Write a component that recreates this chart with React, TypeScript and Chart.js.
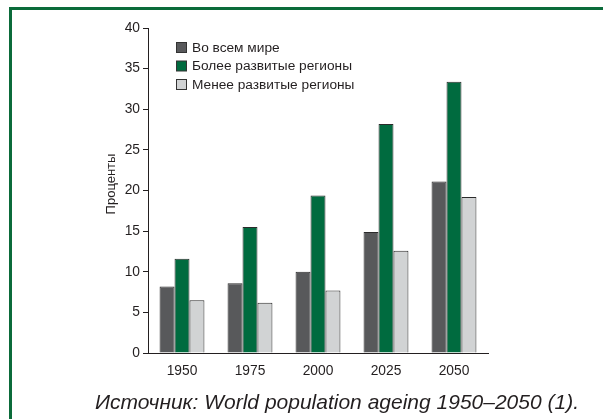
import React, { useEffect, useRef } from "react";
import { Chart, registerables } from "chart.js";

Chart.register(...registerables);

const categories = ["1950", "1975", "2000", "2025", "2050"];
const seriesNames = ["Во всем мире", "Более развитые регионы", "Менее развитые регионы"];
const worldValues = [8.2, 8.6, 10.0, 14.9, 21.1];
const moreDevValues = [11.6, 15.5, 19.4, 28.2, 33.4];
const lessDevValues = [6.5, 6.2, 7.7, 12.6, 19.2];
const yTicks = [0, 5, 10, 15, 20, 25, 30, 35, 40];
const yTitle = "Проценты";
const caption = "Источник: World population ageing 1950–2050 (1).";

const COLORS = ["#58595b", "#006b3f", "#d1d3d4"];
const INK = "#231f20";
const FONT = "'Liberation Sans', Arial, Helvetica, sans-serif";

const legendPlugin = {
  id: "insideLegend",
  afterDraw(chart: any) {
    const ctx = chart.ctx;
    ctx.save();
    const x0 = 176.5;
    const ys = [47.5, 66, 84.5];
    chart.data.datasets.forEach((ds: any, i: number) => {
      const y = ys[i];
      ctx.fillStyle = ds.backgroundColor;
      ctx.fillRect(x0, y - 5, 10, 10);
      ctx.strokeStyle = "#333";
      ctx.lineWidth = 1;
      ctx.strokeRect(x0, y - 5, 10, 10);
      ctx.fillStyle = INK;
      ctx.font = "13.7px " + FONT;
      ctx.textBaseline = "middle";
      ctx.textAlign = "left";
      ctx.fillText(ds.label, x0 + 15.5, y + 0.5);
    });
    // rotated y-axis title
    ctx.translate(111, 184);
    ctx.rotate(-Math.PI / 2);
    ctx.font = "13px " + FONT;
    ctx.fillStyle = INK;
    ctx.textAlign = "center";
    ctx.textBaseline = "middle";
    ctx.fillText(yTitle, 0, 0);
    ctx.restore();
  },
};

export default function App() {
  const ref = useRef<HTMLCanvasElement>(null);
  useEffect(() => {
    if (!ref.current) return;
    const values = [worldValues, moreDevValues, lessDevValues];
    const chart = new Chart(ref.current, {
      type: "bar",
      data: {
        labels: categories,
        datasets: seriesNames.map((name, i) => ({
          label: name,
          data: values[i],
          backgroundColor: COLORS[i],
          borderColor: "#2b2b2b",
          borderWidth: 1,
          categoryPercentage: 0.66,
          barPercentage: 1,
        })),
      },
      options: {
        animation: false,
        responsive: false,
        maintainAspectRatio: false,
        layout: { padding: { left: 101, top: 28, right: 115, bottom: 36 } },
        plugins: { legend: { display: false }, tooltip: { enabled: false } },
        scales: {
          x: {
            grid: { display: false, drawTicks: false },
            border: { display: true, color: INK, width: 1 },
            ticks: { color: INK, font: { family: FONT, size: 13.8 }, padding: 10, maxRotation: 0 },
            afterFit: (s: any) => { s.height = 30; },
          },
          y: {
            min: 0,
            max: 40,
            afterBuildTicks: (s: any) => { s.ticks = yTicks.map((v) => ({ value: v })); },
            grid: { drawOnChartArea: false, drawTicks: true, tickLength: 5, color: INK },
            border: { display: true, color: INK, width: 1 },
            ticks: { color: INK, font: { family: FONT, size: 13.8 }, padding: 3 },
            title: { display: false },
            afterFit: (s: any) => { s.width = 47; },
          },
        },
      },
      plugins: [legendPlugin],
    });
    return () => chart.destroy();
  }, []);

  return (
    <div style={{ position: "fixed", left: 0, top: 0, width: 603, height: 419, background: "#fff", overflow: "hidden" }}>
      <div style={{ position: "absolute", left: 9, top: 7, width: 700, height: 500, borderLeft: "3px solid #0b6b3a", borderTop: "3px solid #0b6b3a" }} />
      <canvas ref={ref} width={603} height={419} style={{ position: "absolute", left: 0, top: 0, width: 603, height: 419 }} />
      <div style={{ position: "absolute", left: 71, top: 390, width: 532, textAlign: "center", fontFamily: FONT, fontStyle: "italic", fontSize: 21, color: INK, whiteSpace: "nowrap" }}>
        {caption}
      </div>
    </div>
  );
}
